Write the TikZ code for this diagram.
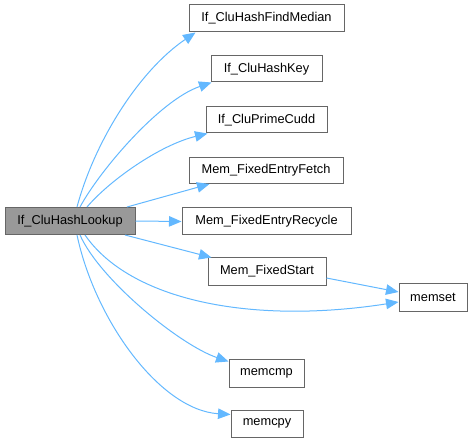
\documentclass[tikz,border=0pt]{standalone}
\usepackage{fontspec}
\setmainfont{Liberation Sans}
\usetikzlibrary{arrows.meta}
\definecolor{edgeblue}{HTML}{63B8FF}
\definecolor{boxline}{HTML}{666666}
\definecolor{mainfill}{HTML}{999999}
\tikzset{
  fn/.style={draw=boxline, line width=1pt, fill=white, inner sep=0pt, font=\fontsize{12.8}{14}\selectfont, text=black},
  mainfn/.style={fn, fill=mainfill},
  call/.style={draw=edgeblue, line width=1pt, -{Triangle[length=12.5pt,width=10.5pt]}}
}
\begin{document}
\begin{tikzpicture}[x=1pt,y=-1pt]
\useasboundingbox (0,0) rectangle (473,443);
\node[mainfn, minimum width=130pt, minimum height=27pt] (main) at (70,221) {If\_CluHashLookup};
\node[fn, minimum width=155pt, minimum height=27pt] (fm) at (266.5,18.5) {If\_CluHashFindMedian};
\node[fn, minimum width=111pt, minimum height=26pt] (hk) at (266.5,69) {If\_CluHashKey};
\node[fn, minimum width=121pt, minimum height=26pt] (pc) at (266.5,120) {If\_CluPrimeCudd};
\node[fn, minimum width=154pt, minimum height=26pt] (fe) at (266,170.5) {Mem\_FixedEntryFetch};
\node[fn, minimum width=169pt, minimum height=27pt] (fr) at (266.5,221.5) {Mem\_FixedEntryRecycle};
\node[fn, minimum width=118pt, minimum height=27pt] (fs) at (267,271.5) {Mem\_FixedStart};
\node[fn, minimum width=68pt, minimum height=28pt] (ms) at (433,297) {memset};
\node[fn, minimum width=75pt, minimum height=28pt] (mc) at (266.5,373) {memcmp};
\node[fn, minimum width=72pt, minimum height=27pt] (my) at (267,423.5) {memcpy};

\draw[call] ([xshift=7pt]main.north) .. controls (95,140) and (140,70) .. ([xshift=7pt]fm.south west);
\draw[call] ([xshift=10pt]main.north) .. controls (100,170) and (160,100) .. ([xshift=1pt]hk.south west);
\draw[call] ([xshift=17pt]main.north) .. controls (110,180) and (160,145) .. ([xshift=2pt]pc.south west);
\draw[call] ([xshift=57pt]main.north) -- ([xshift=21pt]fe.south west);
\draw[call] (main.east) -- (fr.west);
\draw[call] ([xshift=55pt]main.south) -- ([xshift=4pt]fs.north west);
\draw[call] ([xshift=15pt]main.south) .. controls (130,300) and (250,325) .. ([yshift=-5pt]ms.west);
\draw[call] ([xshift=10pt]main.south) .. controls (100,280) and (180,345) .. ([yshift=-3pt]mc.north west);
\draw[call] ([xshift=7pt]main.south) .. controls (95,320) and (160,410) .. ([yshift=-5pt]my.north west);
\draw[call] ([yshift=-6.5pt]fs.east) -- ([yshift=5pt]ms.west);
\end{tikzpicture}
\end{document}
